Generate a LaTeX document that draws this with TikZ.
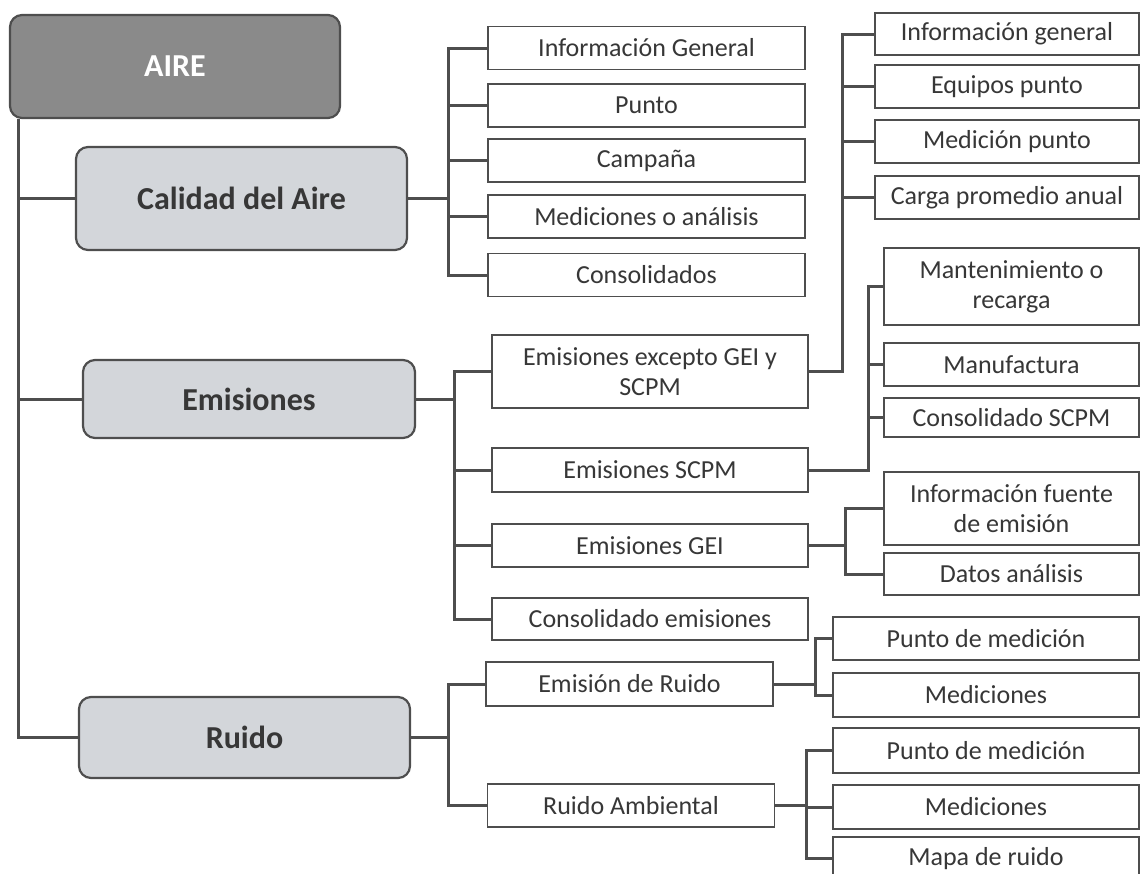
\documentclass[tikz,border=0pt]{standalone}
\usepackage{fontspec}
\setmainfont{Carlito}
\usepackage{tikz}
\usetikzlibrary{positioning}

\definecolor{linegray}{RGB}{78,78,78}
\definecolor{airegray}{RGB}{138,138,138}
\definecolor{temagray}{RGB}{211,214,218}
\definecolor{textgray}{RGB}{55,55,55}

\tikzset{
  tema/.style={draw=linegray, line width=2.2pt, rounded corners=12pt, fill=temagray,
    text=textgray, font=\fontsize{32}{36}\selectfont\bfseries, minimum width=331pt},
  hoja/.style={draw=linegray, line width=1.6pt, fill=white, text=textgray,
    font=\fontsize{26}{30}\selectfont, align=center, inner sep=0pt},
  rama/.style={draw=linegray, line width=3pt}
}

\begin{document}
\begin{tikzpicture}[x=1pt,y=-1pt]
  \useasboundingbox (0,0) rectangle (1142,873);

  % temas principales
  \node (aire) at (175,66.5) [tema, fill=airegray, text=white, minimum width=330pt, minimum height=103pt] {AIRE};
  \node (calidad) at (241.5,198.5) [tema, minimum height=103pt] {Calidad del Aire};
  \node (emisiones) at (249,399) [tema, minimum width=332pt, minimum height=78pt] {Emisiones};
  \node (ruido) at (244.5,737.5) [tema, minimum height=81pt] {Ruido};

  % calidad del aire
  \node (infogen) at (646.5,48) [hoja, minimum width=317pt, minimum height=43pt] {Información General};
  \node (punto) at (646.5,105.5) [hoja, minimum width=317pt, minimum height=43pt] {Punto};
  \node (campana) at (646.5,160.5) [hoja, minimum width=317pt, minimum height=43pt] {Campaña};
  \node (medicion) at (646.5,216.5) [hoja, minimum width=317pt, minimum height=43pt] {Mediciones o análisis};
  \node (consol) at (646.5,275) [hoja, minimum width=317pt, minimum height=43pt] {Consolidados};

  % emisiones
  \node (excepto) at (650,371.5) [hoja, minimum width=316pt, minimum height=73pt] {Emisiones excepto GEI y\\SCPM};
  \node (scpm) at (650,470) [hoja, minimum width=316pt, minimum height=44pt] {Emisiones SCPM};
  \node (gei) at (650,545.5) [hoja, minimum width=316pt, minimum height=43pt] {Emisiones GEI};
  \node (consemi) at (650,619) [hoja, minimum width=316pt, minimum height=42pt] {Consolidado emisiones};

  \node (exinfo) at (1007,34) [hoja, minimum width=264pt, minimum height=42pt] {Información general};
  \node (exequipos) at (1007,86.5) [hoja, minimum width=264pt, minimum height=43pt] {Equipos punto};
  \node (exmedicion) at (1007,141.5) [hoja, minimum width=264pt, minimum height=43pt] {Medición punto};
  \node (excarga) at (1007,197.5) [hoja, minimum width=264pt, minimum height=43pt] {Carga promedio anual};

  \node (mant) at (1011.5,286.5) [hoja, minimum width=255pt, minimum height=77pt] {Mantenimiento o\\recarga};
  \node (manuf) at (1011.5,364.5) [hoja, minimum width=255pt, minimum height=43pt] {Manufactura};
  \node (consscpm) at (1011.5,417.5) [hoja, minimum width=255pt, minimum height=39pt] {Consolidado SCPM};

  \node (fuente) at (1011.5,508.5) [hoja, minimum width=255pt, minimum height=73pt] {Información fuente\\de emisión};
  \node (datos) at (1011.5,574) [hoja, minimum width=255pt, minimum height=42pt] {Datos análisis};

  % ruido
  \node (emiruido) at (629.5,684) [hoja, minimum width=287pt, minimum height=44pt] {Emisión de Ruido};
  \node (ambiental) at (631,805.5) [hoja, minimum width=287pt, minimum height=43pt] {Ruido Ambiental};

  \node (erpunto) at (986,638.5) [hoja, minimum width=306pt, minimum height=43pt] {Punto de medición};
  \node (ermed) at (986,695) [hoja, minimum width=306pt, minimum height=44pt] {Mediciones};
  \node (rapunto) at (986,750.5) [hoja, minimum width=306pt, minimum height=45pt] {Punto de medición};
  \node (ramed) at (986,807) [hoja, minimum width=306pt, minimum height=44pt] {Mediciones};
  \node (ramapa) at (986,858.5) [hoja, minimum width=306pt, minimum height=43pt] {Mapa de ruido};

  % conectores
  \draw[rama] ([xshift=10pt]aire.south west) |- (calidad.west);
  \draw[rama] ([xshift=10pt]aire.south west) |- (emisiones.west);
  \draw[rama] ([xshift=10pt]aire.south west) |- (ruido.west);

  \draw[rama] (calidad.east) -- +(40,0) |- (infogen.west);
  \draw[rama] (calidad.east) -- +(40,0) |- (punto.west);
  \draw[rama] (calidad.east) -- +(40,0) |- (campana.west);
  \draw[rama] (calidad.east) -- +(40,0) |- (medicion.west);
  \draw[rama] (calidad.east) -- +(40,0) |- (consol.west);

  \draw[rama] (emisiones.east) -- +(38,0) |- (excepto.west);
  \draw[rama] (emisiones.east) -- +(38,0) |- (scpm.west);
  \draw[rama] (emisiones.east) -- +(38,0) |- (gei.west);
  \draw[rama] (emisiones.east) -- +(38,0) |- (consemi.west);

  \draw[rama] (excepto.east) -- +(34,0) |- (exinfo.west);
  \draw[rama] (excepto.east) -- +(34,0) |- (exequipos.west);
  \draw[rama] (excepto.east) -- +(34,0) |- (exmedicion.west);
  \draw[rama] (excepto.east) -- +(34,0) |- (excarga.west);

  \draw[rama] (scpm.east) -- +(60,0) |- (mant.west);
  \draw[rama] (scpm.east) -- +(60,0) |- (manuf.west);
  \draw[rama] (scpm.east) -- +(60,0) |- (consscpm.west);

  \draw[rama] (gei.east) -- +(37,0) |- (fuente.west);
  \draw[rama] (gei.east) -- +(37,0) |- (datos.west);

  \draw[rama] (ruido.east) -- +(37,0) |- (emiruido.west);
  \draw[rama] (ruido.east) -- +(37,0) |- (ambiental.west);

  \draw[rama] (emiruido.east) -- +(42,0) |- (erpunto.west);
  \draw[rama] (emiruido.east) -- +(42,0) |- (ermed.west);

  \draw[rama] (ambiental.east) -- +(31,0) |- (rapunto.west);
  \draw[rama] (ambiental.east) -- +(31,0) |- (ramed.west);
  \draw[rama] (ambiental.east) -- +(31,0) |- (ramapa.west);
\end{tikzpicture}
\end{document}
